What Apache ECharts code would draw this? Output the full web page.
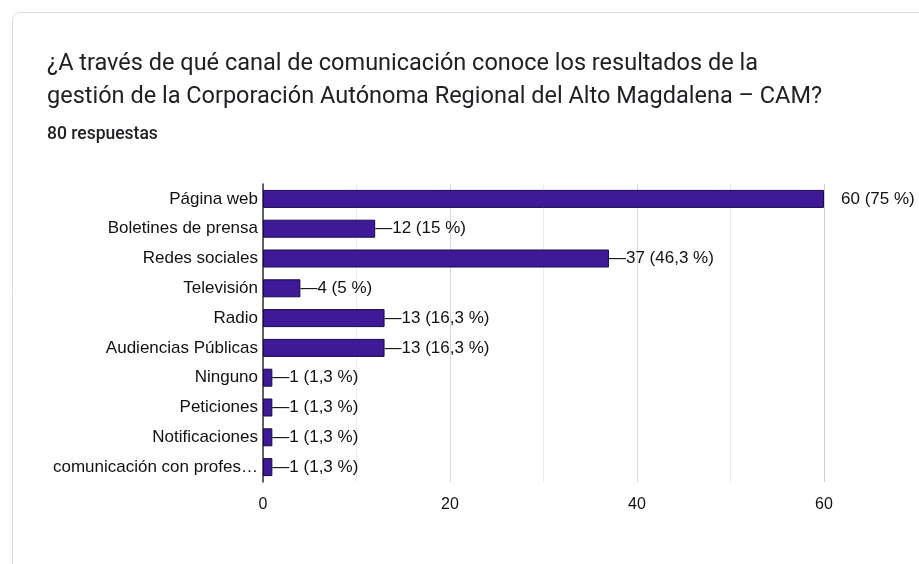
<!DOCTYPE html>
<html>
<head>
<meta charset="utf-8">
<script src="https://cdn.jsdelivr.net/npm/echarts@6/dist/echarts.min.js"></script>
<style>
  html, body { margin: 0; padding: 0; background: #fff; }
  #chart { width: 919px; height: 564px; }
</style>
</head>
<body>
<div id="chart"></div>
<script>
// data
var categories = ['Página web', 'Boletines de prensa', 'Redes sociales', 'Televisión', 'Radio',
  'Audiencias Públicas', 'Ninguno', 'Peticiones', 'Notificaciones', 'comunicación con profes…'];
var counts = [60, 12, 37, 4, 13, 13, 1, 1, 1, 1];
var percents = ['75 %', '15 %', '46,3 %', '5 %', '16,3 %', '16,3 %', '1,3 %', '1,3 %', '1,3 %', '1,3 %'];
var xTicks = [0, 20, 40, 60];

var chart = echarts.init(document.getElementById('chart'));

var seriesData = counts.map(function (v, i) {
  var item = { value: v };
  if (i === 0) {
    // the longest bar has its label pushed out past the axis end
    item.label = { distance: 17, formatter: v + ' (' + percents[i] + ')' };
  }
  return item;
});

chart.setOption({
  animation: false,
  graphic: [{
    type: 'rect',
    shape: { x: 12.5, y: 12.5, width: 940, height: 600, r: 8 },
    style: { fill: 'none', stroke: '#dadce0', lineWidth: 1 },
    silent: true
  }],
  title: [{
    text: '¿A través de qué canal de comunicación conoce los resultados de la\ngestión de la Corporación Autónoma Regional del Alto Magdalena – CAM?',
    left: 42, top: 43,
    textStyle: { fontFamily: 'Roboto', fontSize: 23.5, fontWeight: 'normal', color: '#202124', lineHeight: 33 }
  }, {
    text: '80 respuestas',
    left: 42, top: 121,
    textStyle: { fontFamily: 'Roboto', fontSize: 17.5, fontWeight: 500, color: '#202124' }
  }],
  grid: { left: 263, top: 184, width: 561, height: 298, containLabel: false },
  xAxis: {
    type: 'value', min: 0, max: 60, interval: 10,
    axisLine: { show: false },
    axisTick: { show: false },
    axisLabel: {
      margin: 15, fontFamily: 'Liberation Sans', fontSize: 16, color: '#111',
      formatter: function (v) { return xTicks.indexOf(v) >= 0 ? v : ''; }
    },
    splitLine: {
      show: true,
      lineStyle: { color: ['#d9d9d9', '#ececec', '#d9d9d9', '#ececec', '#d9d9d9', '#ececec', '#cfcfcf'] }
    }
  },
  yAxis: {
    type: 'category', data: categories, inverse: true,
    axisLine: { show: true, lineStyle: { color: '#333', width: 1.5 } },
    axisTick: { show: false },
    axisLabel: { margin: 5, fontFamily: 'Liberation Sans', fontSize: 17, color: '#111' },
    splitLine: { show: false }
  },
  series: [{
    type: 'bar',
    data: seriesData,
    barWidth: 18,
    itemStyle: { color: '#3e1a98', borderColor: '#160a48', borderWidth: 1 },
    label: {
      show: true, position: 'right', distance: 0,
      fontFamily: 'Liberation Sans', fontSize: 17, color: '#111',
      formatter: function (p) { return '—' + p.value + ' (' + percents[p.dataIndex] + ')'; }
    }
  }]
});
</script>
</body>
</html>
